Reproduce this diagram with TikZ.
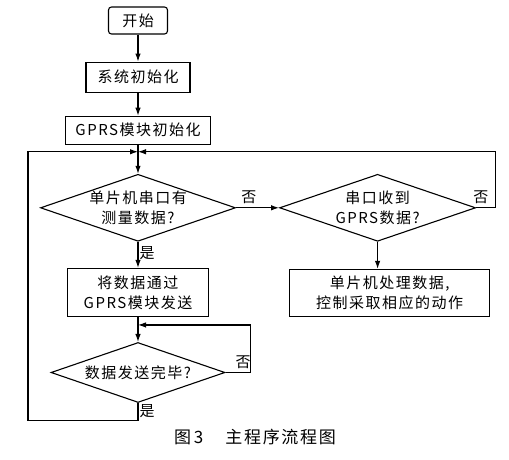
\documentclass[tikz,border=0pt]{standalone}
\usepackage{fontspec}
\newfontfamily\cjk[LetterSpace=10]{Noto Sans CJK SC}
\usetikzlibrary{arrows.meta,positioning,calc,shapes.geometric}

\begin{document}
\begin{tikzpicture}[
    font=\cjk\fontsize{15}{20}\selectfont,
    box/.style={draw,line width=1.1pt,align=center,inner sep=2pt},
    dec/.style={draw,line width=1.1pt,diamond,inner sep=0pt},
    arrow/.style={-{Latex[length=8pt,width=5.5pt]},line width=1.1pt},
    node distance=27pt
  ]
    \useasboundingbox (0,0) rectangle (509pt,-460pt);
    \node[box,rounded corners=3pt,minimum width=59pt,minimum height=27pt] (start) at (138pt,-20.5pt) {开始};
    \node[box,minimum width=104pt,minimum height=30pt,below=27pt of start] (init) {系统初始化};
    \node[box,minimum width=145pt,minimum height=28pt,below=23pt of init] (gprsinit) {GPRS模块初始化};
    \coordinate[below=7pt of gprsinit] (j1);
    \node[dec,minimum width=195pt,minimum height=67pt,below=29pt of gprsinit,
      label={[align=center]center:单片机串口有\\测量数据?}] (measure) {};
    \node[dec,minimum width=196pt,minimum height=67pt,right=43pt of measure,
      label={[align=center]center:串口收到\\GPRS数据?}] (serial) {};
    \node[box,minimum width=200pt,minimum height=47pt,below=27pt of serial,xshift=12pt] (proc) {单片机处理数据,\\控制采取相应的动作};
    \node[box,minimum width=141pt,minimum height=48pt,below=26pt of measure] (send) {将数据通过\\GPRS模块发送};
    \coordinate[below=8pt of send] (j2);
    \node[dec,minimum width=174pt,minimum height=60pt,below=25pt of send,
      label={center:数据发送完毕?}] (check) {};
    \coordinate[left=12pt of measure] (lx);
    \coordinate[right=19pt of serial] (rx);
    \coordinate[right=25pt of check] (cx);
    \node[font=\cjk\fontsize{17}{20}\selectfont] (caption) at (255pt,-437pt) {图\,3\hspace{22pt}主程序流程图};

    \draw[arrow] (start) -- (init);
    \draw[arrow] (init) -- (gprsinit);
    \draw[arrow] (gprsinit) -- (measure);
    \draw[arrow] (measure) -- node[above,pos=0.3] {否} (serial);
    \draw[arrow] (serial.east) -- node[above,pos=0.25] {否} (rx) |- (j1);
    \draw[arrow] (serial.south) -- (serial.south |- proc.north);
    \draw[arrow] (measure) -- node[right,pos=0.42,inner sep=1pt] {是} (send);
    \draw[arrow] (send) -- (check);
    \draw[arrow] (check.east) -- node[above,pos=0.7] {否} (cx) |- (j2);
    \draw[arrow] (check.south) -- node[right,pos=0.5,inner sep=1pt] {是} ++(0,-17pt) -| (lx |- j1) -- (j1);
  \end{tikzpicture}
\end{document}
